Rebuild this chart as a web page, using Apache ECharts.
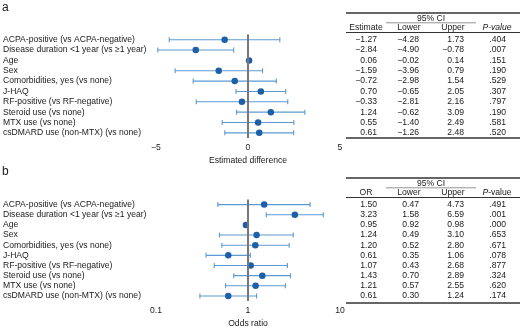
<!DOCTYPE html>
<html lang="en">
<head>
    <meta charset="UTF-8">
    <title>Forest plots</title>
    <script src="https://cdn.jsdelivr.net/npm/echarts@6/dist/echarts.min.js"></script>
    <style>
        * { margin: 0; padding: 0 }
        html, body { width: 100%; height: 100%; background: #fff; }
        #main { width: 520px; height: 329px; }
    </style>
</head>
<body>
<div id="main"></div>
<script type="text/javascript">
    // row labels (shared by both panels)
    var labels = ['ACPA-positive (vs ACPA-negative)', 'Disease duration <1 year (vs \u22651 year)', 'Age', 'Sex',
        'Comorbidities, yes (vs none)', 'J-HAQ', 'RF-positive (vs RF-negative)', 'Steroid use (vs none)',
        'MTX use (vs none)', 'csDMARD use (non-MTX) (vs none)'];

    // panel a - estimated difference
    var diffEst = [-1.27, -2.84, 0.06, -1.59, -0.72, 0.70, -0.33, 1.24, 0.55, 0.61];
    var diffLow = [-4.28, -4.90, -0.02, -3.96, -2.98, -0.65, -2.81, -0.62, -1.40, -1.26];
    var diffUp = [1.73, -0.78, 0.14, 0.79, 1.54, 2.05, 2.16, 3.09, 2.49, 2.48];
    var diffP = ['.404', '.007', '.151', '.190', '.529', '.307', '.797', '.190', '.581', '.520'];

    // panel b - odds ratio
    var orEst = [1.50, 3.23, 0.95, 1.24, 1.20, 0.61, 1.07, 1.43, 1.21, 0.61];
    var orLow = [0.47, 1.58, 0.92, 0.49, 0.52, 0.35, 0.43, 0.70, 0.57, 0.30];
    var orUp = [4.73, 6.59, 0.98, 3.10, 2.80, 1.06, 2.68, 2.89, 2.55, 1.24];
    var orP = ['.491', '.001', '.000', '.653', '.671', '.078', '.877', '.324', '.620', '.174'];

    var FONT = 'Liberation Sans, Arial, sans-serif';
    var TXT = '#1a1a1a';
    var DOT = '#1d5fa8';
    var BAR = '#5b9ad2';
    var colRight = [377, 419, 464, 506];   // table columns, right edge
    var colMid = [366, 409, 453, 497];

    function fmt(v) {
        return v.toFixed(2).replace('-', '\u2212');
    }

    function rows(est, low, up) {
        return est.map(function (v, i) { return [low[i], up[i], i]; });
    }

    function points(est) {
        return est.map(function (v, i) { return [v, i]; });
    }

    function renderBar(params, api) {
        var a = api.coord([api.value(0), api.value(2)]);
        var b = api.coord([api.value(1), api.value(2)]);
        var st = {stroke: BAR, lineWidth: 1.1};
        return {
            type: 'group',
            children: [
                {type: 'line', shape: {x1: a[0], y1: a[1], x2: b[0], y2: b[1]}, style: st},
                {type: 'line', shape: {x1: a[0], y1: a[1] - 2.5, x2: a[0], y2: a[1] + 2.5}, style: st},
                {type: 'line', shape: {x1: b[0], y1: b[1] - 2.5, x2: b[0], y2: b[1] + 2.5}, style: st}
            ]
        };
    }

    // table cells drawn at each row's y from the category axis
    function makeTable(est, low, up, p, x0) {
        return function (params, api) {
            var i = params.dataIndex;
            var y = api.coord([x0, i])[1];
            var cells = [fmt(est[i]), fmt(low[i]), fmt(up[i]), p[i]];
            var kids = cells.map(function (t, c) {
                return {
                    type: 'text',
                    style: {
                        text: t, x: colRight[c], y: y, align: 'right', verticalAlign: 'middle',
                        font: '8.6px ' + FONT, fill: TXT
                    }
                };
            });
            return {type: 'group', children: kids};
        };
    }

    function yAxis(idx) {
        return {
            type: 'category', gridIndex: idx, data: labels, inverse: true,
            axisLine: {show: false}, axisTick: {show: false},
            axisLabel: {interval: 0, align: 'left', margin: 153, fontSize: 8.6, fontFamily: FONT, color: TXT}
        };
    }

    function header(dy, first, pItalicAll) {
        var g = [];
        g.push({type: 'line', shape: {x1: 346, y1: 13 + dy, x2: 520, y2: 13 + dy}, style: {stroke: '#333', lineWidth: 1.5}});
        g.push({type: 'text', style: {text: '95% CI', x: 431, y: 18.5 + dy, align: 'center', verticalAlign: 'middle', font: '8.6px ' + FONT, fill: TXT}});
        g.push({type: 'line', shape: {x1: 386, y1: 22.8 + dy, x2: 476, y2: 22.8 + dy}, style: {stroke: '#666', lineWidth: 0.7}});
        var heads = [first, 'Lower', 'Upper'];
        for (var i = 0; i < 3; i++) {
            g.push({type: 'text', style: {text: heads[i], x: colMid[i], y: 27.5 + dy, align: 'center', verticalAlign: 'middle', font: '8.6px ' + FONT, fill: TXT}});
        }
        g.push({
            type: 'text',
            style: {
                text: pItalicAll ? '{i|P-value}' : '{i|P}-value', x: colMid[3], y: 27.5 + dy, align: 'center', verticalAlign: 'middle',
                font: '8.6px ' + FONT, fill: TXT,
                rich: {i: {fontStyle: 'italic', fontSize: 8.6, fontFamily: FONT, fill: TXT}}
            }
        });
        g.push({type: 'line', shape: {x1: 346, y1: 32.5 + dy, x2: 520, y2: 32.5 + dy}, style: {stroke: '#333', lineWidth: 1}});
        g.push({type: 'line', shape: {x1: 346, y1: 138 + dy, x2: 520, y2: 138 + dy}, style: {stroke: '#333', lineWidth: 1.5}});
        return g;
    }

    var xCommon = {
        axisLine: {lineStyle: {color: TXT, width: 1.2}},
        axisTick: {length: 4, lineStyle: {color: TXT, width: 1.2}},
        axisLabel: {margin: 5, fontSize: 8.6, fontFamily: FONT, color: TXT},
        splitLine: {show: false},
        nameLocation: 'middle', nameGap: 18,
        nameTextStyle: {fontSize: 8.6, fontFamily: FONT, color: TXT}
    };

    var refLine = function (v) {
        return {
            silent: true, symbol: 'none', label: {show: false},
            lineStyle: {color: '#777', width: 2, type: 'solid'},
            data: [{xAxis: v}]
        };
    };

    var chart = echarts.init(document.getElementById('main'), null, {renderer: 'canvas'});
    chart.setOption({
        animation: false,
        backgroundColor: '#fff',
        textStyle: {fontFamily: FONT},
        grid: [
            {left: 154, width: 186, top: 34.5, height: 103.5},
            {left: 154, width: 186, top: 199.5, height: 103.7}
        ],
        xAxis: [
            Object.assign({}, xCommon, {
                type: 'value', gridIndex: 0, min: -5, max: 5, interval: 5, name: 'Estimated difference',
                axisLabel: Object.assign({}, xCommon.axisLabel, {
                    formatter: function (v) { return String(v).replace('-', '\u2212'); }
                })
            }),
            Object.assign({}, xCommon, {
                type: 'log', gridIndex: 1, min: 0.1, max: 10, logBase: 10, name: 'Odds ratio',
                minorTick: {show: false}
            })
        ],
        yAxis: [yAxis(0), yAxis(1)],
        graphic: [
            {type: 'text', left: 2, top: 2, style: {text: 'a', font: '12px ' + FONT, fill: TXT}},
            {type: 'text', left: 2, top: 166, style: {text: 'b', font: '12px ' + FONT, fill: TXT}}
        ].concat(header(0, 'Estimate', true), header(165, 'OR', false)),
        series: [
            {
                type: 'custom', xAxisIndex: 0, yAxisIndex: 0, renderItem: renderBar, clip: false,
                data: rows(diffEst, diffLow, diffUp), z: 3
            },
            {
                type: 'scatter', xAxisIndex: 0, yAxisIndex: 0, symbolSize: 6.5,
                itemStyle: {color: DOT, opacity: 1}, data: points(diffEst), z: 4,
                markLine: refLine(0)
            },
            {
                type: 'custom', xAxisIndex: 0, yAxisIndex: 0, renderItem: makeTable(diffEst, diffLow, diffUp, diffP, 0),
                clip: false, data: points(diffEst)
            },
            {
                type: 'custom', xAxisIndex: 1, yAxisIndex: 1, renderItem: renderBar, clip: false,
                data: rows(orEst, orLow, orUp), z: 3
            },
            {
                type: 'scatter', xAxisIndex: 1, yAxisIndex: 1, symbolSize: 6.5,
                itemStyle: {color: DOT, opacity: 1}, data: points(orEst), z: 4,
                markLine: refLine(1)
            },
            {
                type: 'custom', xAxisIndex: 1, yAxisIndex: 1, renderItem: makeTable(orEst, orLow, orUp, orP, 1),
                clip: false, data: points(orEst)
            }
        ]
    });
</script>
</body>
</html>
